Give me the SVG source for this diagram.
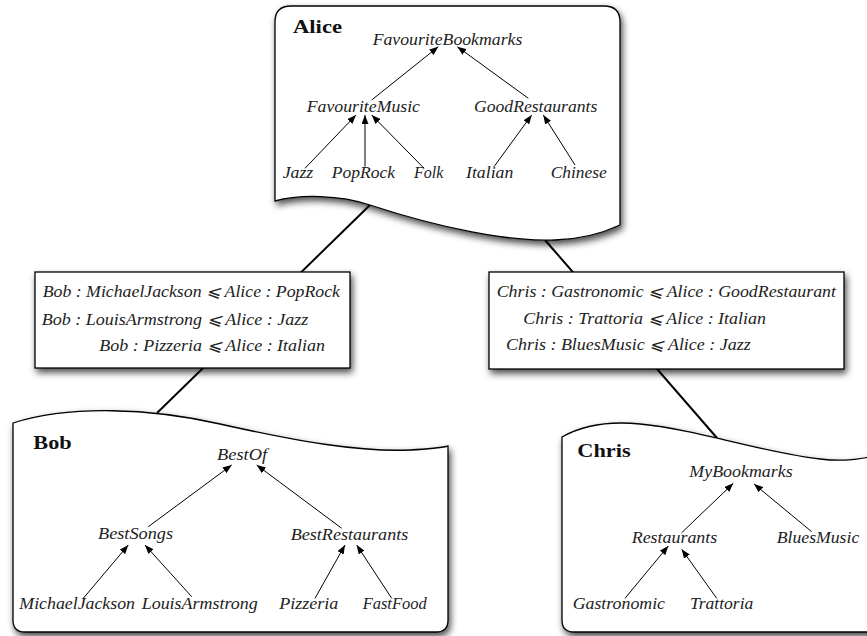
<svg xmlns="http://www.w3.org/2000/svg" width="867" height="636" viewBox="0 0 867 636">
<defs>
<filter id="sh" x="-10%" y="-10%" width="125%" height="130%">
<feDropShadow dx="2" dy="4" stdDeviation="3.5" flood-color="#000" flood-opacity="0.7"/>
</filter>
<marker id="ah" markerUnits="userSpaceOnUse" markerWidth="9" markerHeight="7" refX="9" refY="3.5" orient="auto">
<path d="M0,0 L9,3.5 L0,7 Z" fill="#000"/>
</marker>
</defs>
<style>
.doc{fill:#fff;stroke:#000;stroke-width:1.3;filter:url(#sh)}
.map{fill:#fff;stroke:#000;stroke-width:1.3;filter:url(#sh)}
.conn{stroke:#000;stroke-width:2;fill:none}
.arr{stroke:#000;stroke-width:1;fill:none;marker-end:url(#ah)}
.t{font-family:"Liberation Serif","DejaVu Serif",serif;font-style:italic;font-size:16px;fill:#222}
.m{font-family:"Liberation Serif","DejaVu Serif",serif;font-style:italic;font-size:16px;fill:#222}
.h{font-family:"Liberation Serif","DejaVu Serif",serif;font-weight:bold;font-size:18px;fill:#111}
</style>
<rect width="867" height="636" fill="#fff"/>
<g id="connectors">
<line class="conn" x1="370" y1="205" x2="157" y2="413"/>
<line class="conn" x1="545" y1="240" x2="717" y2="438"/>
</g>
<g id="alice">
<path class="doc" d="M275,201 L275,22 Q275,6 291,6 L604,6 Q620,6 620,22 L620,225 C605,232 585,239 555,240 C510,242 440,228 370,205 C340,195 300,194 275,201 Z"/>
<text class="h" x="293" y="33" textLength="49" lengthAdjust="spacingAndGlyphs">Alice</text>
<text class="t" x="372.7" y="45" textLength="149.6" lengthAdjust="spacingAndGlyphs">FavouriteBookmarks</text>
<text class="t" x="306.7" y="111.7" textLength="113.3" lengthAdjust="spacingAndGlyphs">FavouriteMusic</text>
<text class="t" x="474" y="112" textLength="123.3" lengthAdjust="spacingAndGlyphs">GoodRestaurants</text>
<text class="t" x="282.7" y="178" textLength="30.6" lengthAdjust="spacingAndGlyphs">Jazz</text>
<text class="t" x="331.7" y="178" textLength="63.3" lengthAdjust="spacingAndGlyphs">PopRock</text>
<text class="t" x="414" y="178" textLength="29.3" lengthAdjust="spacingAndGlyphs">Folk</text>
<text class="t" x="466" y="178" textLength="47.3" lengthAdjust="spacingAndGlyphs">Italian</text>
<text class="t" x="550.7" y="178" textLength="56" lengthAdjust="spacingAndGlyphs">Chinese</text>
<line class="arr" x1="371.7" y1="100" x2="438.3" y2="46.7"/>
<line class="arr" x1="528.3" y1="98.3" x2="457.3" y2="46.7"/>
<line class="arr" x1="305" y1="168.3" x2="356" y2="115"/>
<line class="arr" x1="365" y1="166.7" x2="365" y2="115"/>
<line class="arr" x1="424" y1="168.3" x2="371.7" y2="115"/>
<line class="arr" x1="494" y1="166.7" x2="531.7" y2="115"/>
<line class="arr" x1="575" y1="165" x2="543.3" y2="115"/>
</g>
<g id="bob-alice-mapping">
<rect class="map" x="35" y="272" width="315" height="96"/>
<text class="m" x="42.7" y="296.7" textLength="297.3" lengthAdjust="spacingAndGlyphs">Bob : MichaelJackson ⩽ Alice : PopRock</text>
<text class="m" x="41.7" y="325" textLength="266.6" lengthAdjust="spacingAndGlyphs">Bob : LouisArmstrong ⩽ Alice : Jazz</text>
<text class="m" x="99.3" y="350.7" textLength="225.7" lengthAdjust="spacingAndGlyphs">Bob : Pizzeria ⩽ Alice : Italian</text>
</g>
<g id="chris-alice-mapping">
<rect class="map" x="489" y="272" width="355" height="97"/>
<text class="m" x="496.7" y="296.7" textLength="339.3" lengthAdjust="spacingAndGlyphs">Chris : Gastronomic ⩽ Alice : GoodRestaurant</text>
<text class="m" x="523.3" y="324" textLength="242.7" lengthAdjust="spacingAndGlyphs">Chris : Trattoria ⩽ Alice : Italian</text>
<text class="m" x="506" y="350" textLength="244.7" lengthAdjust="spacingAndGlyphs">Chris : BluesMusic ⩽ Alice : Jazz</text>
</g>
<g id="bob">
<path class="doc" d="M13,423 C70,405 150,408 220,424 C300,442 360,452 410,450 C430,449 440,448 448,446 L448,620 Q448,632 436,632 L25,632 Q13,632 13,620 Z"/>
<text class="h" x="33.3" y="449.3" textLength="38.4" lengthAdjust="spacingAndGlyphs">Bob</text>
<text class="t" x="217" y="460" textLength="50" lengthAdjust="spacingAndGlyphs">BestOf</text>
<text class="t" x="98" y="539" textLength="75" lengthAdjust="spacingAndGlyphs">BestSongs</text>
<text class="t" x="290.7" y="539.5" textLength="117.6" lengthAdjust="spacingAndGlyphs">BestRestaurants</text>
<text class="t" x="19.3" y="609" textLength="115.7" lengthAdjust="spacingAndGlyphs">MichaelJackson</text>
<text class="t" x="141.7" y="609" textLength="116" lengthAdjust="spacingAndGlyphs">LouisArmstrong</text>
<text class="t" x="279.3" y="609" textLength="59" lengthAdjust="spacingAndGlyphs">Pizzeria</text>
<text class="t" x="362.7" y="609" textLength="64" lengthAdjust="spacingAndGlyphs">FastFood</text>
<line class="arr" x1="148.3" y1="526.7" x2="231.7" y2="465"/>
<line class="arr" x1="341.7" y1="528.3" x2="256.7" y2="465"/>
<line class="arr" x1="83.3" y1="598.3" x2="128.3" y2="545"/>
<line class="arr" x1="191.7" y1="596.7" x2="145" y2="545"/>
<line class="arr" x1="315" y1="598.3" x2="345" y2="545"/>
<line class="arr" x1="391.7" y1="598.3" x2="356.7" y2="545"/>
</g>
<g id="chris">
<path class="doc" d="M562,437 C585,424 610,421 640,424 C700,430 760,452 820,459 C845,462 860,459 880,455 L880,632 L574,632 Q562,632 562,620 Z"/>
<text class="h" x="577.3" y="456.7" textLength="53.4" lengthAdjust="spacingAndGlyphs">Chris</text>
<text class="t" x="689.3" y="476.5" textLength="103.4" lengthAdjust="spacingAndGlyphs">MyBookmarks</text>
<text class="t" x="631.7" y="543" textLength="85.6" lengthAdjust="spacingAndGlyphs">Restaurants</text>
<text class="t" x="776.7" y="543" textLength="82.6" lengthAdjust="spacingAndGlyphs">BluesMusic</text>
<text class="t" x="572.7" y="609" textLength="92.3" lengthAdjust="spacingAndGlyphs">Gastronomic</text>
<text class="t" x="690" y="609" textLength="63.3" lengthAdjust="spacingAndGlyphs">Trattoria</text>
<line class="arr" x1="681.7" y1="532.7" x2="733.3" y2="483.3"/>
<line class="arr" x1="811.7" y1="531.7" x2="754" y2="484"/>
<line class="arr" x1="625" y1="598.3" x2="668.3" y2="546"/>
<line class="arr" x1="716.7" y1="598.3" x2="681.7" y2="549.3"/>
</g>
</svg>
